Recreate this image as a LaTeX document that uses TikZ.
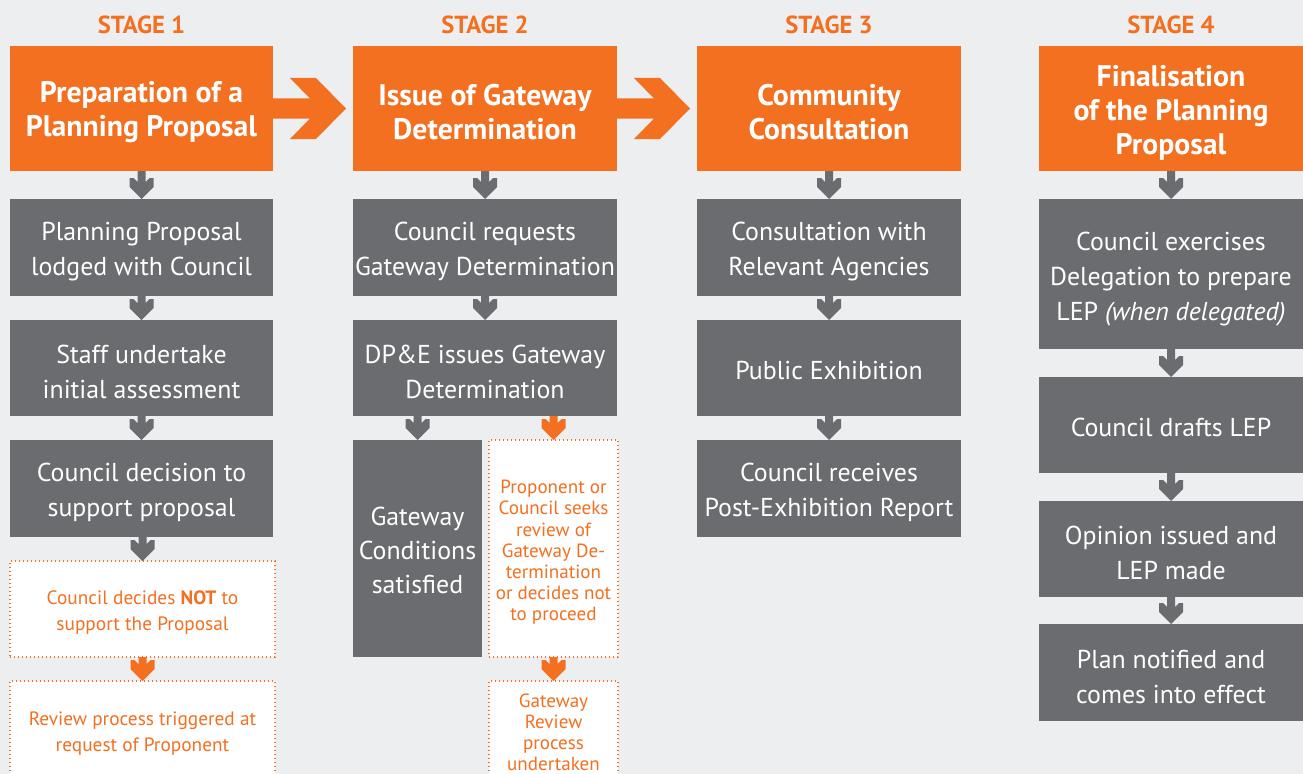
\documentclass[tikz,border=0pt]{standalone}
\usepackage{fontspec}
\setmainfont{PT Sans}
\usetikzlibrary{calc}
\definecolor{org}{HTML}{F37021}
\definecolor{gry}{HTML}{6B6C70}
\definecolor{bgc}{HTML}{EDEEF0}
\tikzset{
 base/.style={inner sep=0pt, outer sep=0pt, align=center, anchor=center},
 obox/.style={base, fill=org},
 gbox/.style={base, fill=gry},
 dbox/.style={base, fill=white, draw=org, line width=1.1pt, dash pattern=on 1.1pt off 1.9pt},
 otxt/.style={base, text=white, font=\fontsize{22.3}{25.5}\selectfont\bfseries},
 gtxt/.style={base, text=white, font=\fontsize{19.4}{26.25}\selectfont},
 dtxt/.style={base, text=org},
 stagelbl/.style={base, text=org, font=\fontsize{18.5}{20}\selectfont\bfseries},
 colw/.style={minimum width=198pt},
 halfw/.style={minimum width=96.75pt},
 hO/.style={minimum height=93.75pt},
 hG/.style={minimum height=72.75pt},
}
\newcommand{\dnarrow}[3]{%
 \fill[#1] let \p1=(#2.south), \p2=(#3.north) in
  ({\x2-3pt},\y1) -- ({\x2+3pt},\y1) -- ({\x2+3pt},{\y2+12.75pt}) -- ({\x2+6pt},{\y2+15.75pt}) -- ({\x2+9pt},{\y2+15.75pt}) -- ({\x2+9pt},{\y2+9pt}) -- (\x2,\y2) -- ({\x2-9pt},{\y2+9pt}) -- ({\x2-9pt},{\y2+15.75pt}) -- ({\x2-6pt},{\y2+15.75pt}) -- ({\x2-3pt},{\y2+12.75pt}) -- cycle;}
\newcommand{\rtarrow}[2]{%
 \fill[org] let \p1=(#1.east), \p2=(#2.west) in
  (\x1,{\y1+7.5pt}) -- ({\x1+27.75pt},{\y1+7.5pt}) -- ({\x1+12.75pt},{\y1+22.875pt}) -- ({\x1+32.25pt},{\y1+22.875pt}) -- ({\x1+54.75pt},\y1) -- ({\x1+32.25pt},{\y1-22.875pt}) -- ({\x1+12.75pt},{\y1-22.875pt}) -- ({\x1+27.75pt},{\y1-7.5pt}) -- (\x1,{\y1-7.5pt}) -- cycle;}
\begin{document}
\begin{tikzpicture}[x=0.75pt,y=-0.75pt]
\fill[bgc] (0,0) rectangle (1303,774);
\useasboundingbox (0,0) rectangle (1303,774);
% stage labels
\node[stagelbl] (s1) at (141.5,25) {STAGE 1};
\node[stagelbl] (s2) at (485,25) {STAGE 2};
\node[stagelbl] (s3) at (829,25) {STAGE 3};
\node[stagelbl] (s4) at (1171,25) {STAGE 4};
% orange headers
\node[obox,hO,minimum width=197.25pt] (o1) at (141.5,108.5) {};
\node[obox,colw,hO] (o2) at (485,108.5) {};
\node[obox,colw,hO] (o3) at (829,108.5) {};
\node[obox,colw,hO] (o4) at (1171,108.5) {};
\node[otxt] (o1t) at ([yshift=-3pt]o1.center) {Preparation of a\\Planning Proposal};
\node[otxt] (o2t) at ([yshift=-3pt]o2.center) {Issue of Gateway\\Determination};
\node[otxt] (o3t) at ([yshift=-3pt]o3.center) {Community\\Consultation};
\node[otxt] (o4t) at ([yshift=-3pt]o4.center) {Finalisation\\of the Planning\\Proposal};
\rtarrow{o1}{o2}
\rtarrow{o2}{o3}
% column 1
\node[gbox,hG,minimum width=197.25pt] (g11) at (141.5,247.5) {};
\node[gbox,minimum width=197.25pt,minimum height=72pt] (g12) at (141.5,368) {};
\node[gbox,hG,minimum width=197.25pt] (g13) at (141.5,488.5) {};
\node[dbox,minimum width=198.75pt,minimum height=72pt] (d11) at (142.5,609) {};
\node[dbox,minimum width=198.75pt,hG] (d12) at (142.5,729.5) {};
\node[gtxt] (g11t) at ([yshift=-3pt]g11.center) {Planning Proposal\\lodged with Council};
\node[gtxt] (g12t) at ([yshift=-3pt]g12.center) {Staff undertake\\initial assessment};
\node[gtxt] (g13t) at ([yshift=-3pt]g13.center) {Council decision to\\support proposal};
\node[dtxt,font=\fontsize{14.5}{19.5}\selectfont] (d11t) at ([yshift=-3pt]d11.center) {Council decides \textbf{NOT} to\\support the Proposal};
\node[dtxt,font=\fontsize{14.5}{19.5}\selectfont] (d12t) at ([yshift=-3pt]d12.center) {Review process triggered at\\request of Proponent};
\dnarrow{gry}{o1}{g11}
\dnarrow{gry}{g11}{g12}
\dnarrow{gry}{g12}{g13}
\dnarrow{gry}{g13}{d11}
\dnarrow{org}{d11}{d12}
% column 2
\node[gbox,colw,hG] (g21) at (485,247.5) {};
\node[gbox,colw,minimum height=72pt] (g22) at (485,368) {};
\node[gbox,halfw,minimum height=162.75pt] (g23) at (417.5,548.5) {};
\node[dbox,halfw,minimum height=162.75pt] (d21) at (553.5,548.5) {};
\node[dbox,halfw,hG] (d22) at (553.5,729.5) {};
\node[gtxt] (g21t) at ([yshift=-3pt]g21.center) {Council requests\\Gateway Determination};
\node[gtxt] (g22t) at ([yshift=-3pt]g22.center) {DP\&E issues Gateway\\Determination};
\node[gtxt,font=\fontsize{19.4}{25.5}\selectfont] (g23t) at ([yshift=-1.5pt]g23.center) {Gateway\\Conditions\\satisfied};
\node[dtxt,font=\fontsize{14.3}{15.9}\selectfont] (d21t) at ([yshift=-3pt]d21.center) {Proponent or\\Council seeks\\review of\\Gateway De-\\termination\\or decides not\\to proceed};
\node[dtxt,font=\fontsize{14.3}{15.9}\selectfont] (d22t) at ([yshift=-2pt]d22.center) {Gateway\\Review\\process\\undertaken};
\dnarrow{gry}{o2}{g21}
\dnarrow{gry}{g21}{g22}
\dnarrow{gry}{g22}{g23}
\dnarrow{org}{g22}{d21}
\dnarrow{org}{d21}{d22}
% column 3
\node[gbox,colw,hG] (g31) at (829,247.5) {};
\node[gbox,colw,minimum height=72pt] (g32) at (829,368) {};
\node[gbox,colw,hG] (g33) at (829,488.5) {};
\node[gtxt] (g31t) at ([yshift=-3pt]g31.center) {Consultation with\\Relevant Agencies};
\node[gtxt] (g32t) at ([yshift=-1.5pt]g32.center) {Public Exhibition};
\node[gtxt] (g33t) at ([yshift=-3pt]g33.center) {Council receives\\Post-Exhibition Report};
\dnarrow{gry}{o3}{g31}
\dnarrow{gry}{g31}{g32}
\dnarrow{gry}{g32}{g33}
% column 4
\node[gbox,colw,minimum height=112.5pt] (g41) at (1171,274) {};
\node[gbox,colw,minimum height=72pt] (g42) at (1171,425) {};
\node[gbox,colw,minimum height=72pt] (g43) at (1171,549) {};
\node[gbox,colw,hG] (g44) at (1171,672.5) {};
\node[gtxt] (g41t) at ([yshift=-3.5pt]g41.center) {Council exercises\\Delegation to prepare\\LEP \textit{(when delegated)}};
\node[gtxt] (g42t) at ([yshift=-1.5pt]g42.center) {Council drafts LEP};
\node[gtxt] (g43t) at ([yshift=-3pt]g43.center) {Opinion issued and\\LEP made};
\node[gtxt] (g44t) at ([yshift=-3pt]g44.center) {Plan notified and\\comes into effect};
\dnarrow{gry}{o4}{g41}
\dnarrow{gry}{g41}{g42}
\dnarrow{gry}{g42}{g43}
\dnarrow{gry}{g43}{g44}
\end{tikzpicture}
\end{document}
